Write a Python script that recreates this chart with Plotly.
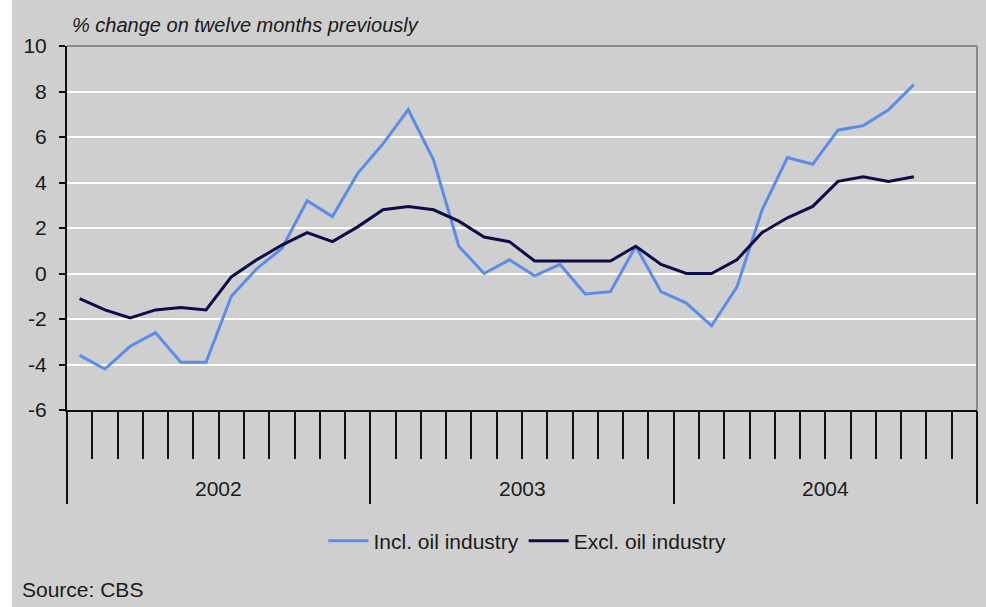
import plotly.graph_objects as go

# Industrial producer prices, % change on twelve months previously
years = ["2002", "2003", "2004"]
month_names = ["Jan", "Feb", "Mar", "Apr", "May", "Jun",
               "Jul", "Aug", "Sep", "Oct", "Nov", "Dec"]
months = [f"{m} {y}" for y in years for m in month_names]

incl_oil = [-3.6, -4.2, -3.2, -2.6, -3.9, -3.9, -1.0, 0.2, 1.1, 3.2, 2.5, 4.4,
            5.7, 7.2, 5.0, 1.2, 0.0, 0.6, -0.1, 0.4, -0.9, -0.8, 1.2, -0.8,
            -1.3, -2.3, -0.6, 2.8, 5.1, 4.8, 6.3, 6.5, 7.2, 8.3]
excl_oil = [-1.1, -1.6, -1.95, -1.6, -1.5, -1.6, -0.15, 0.6, 1.25, 1.8, 1.4, 2.05,
            2.8, 2.95, 2.8, 2.3, 1.6, 1.4, 0.55, 0.55, 0.55, 0.55, 1.2, 0.4,
            0.0, 0.0, 0.6, 1.8, 2.45, 2.95, 4.05, 4.25, 4.05, 4.25]

y_ticks = [-6, -4, -2, 0, 2, 4, 6, 8, 10]
y_tick_text = [str(v) for v in y_ticks]

BG = "#cfcfcf"
FONT = "Liberation Sans, Arial, sans-serif"
TXT = "#1a1a1a"

fig = go.Figure()
fig.add_trace(go.Scatter(x=months[:len(incl_oil)], y=incl_oil, mode="lines",
                         name="Incl. oil industry",
                         line=dict(color="#5b8de8", width=3)))
fig.add_trace(go.Scatter(x=months[:len(excl_oil)], y=excl_oil, mode="lines",
                         name="Excl. oil industry",
                         line=dict(color="#0c0c48", width=3)))

n = len(months)
year_bounds = [-0.5 + 12 * k for k in range(len(years) + 1)]
year_centers = [5.5 + 12 * k for k in range(len(years))]

fig.update_layout(
    width=986, height=607,
    margin=dict(l=67, r=9, t=46, b=197),
    paper_bgcolor=BG, plot_bgcolor=BG,
    font=dict(family=FONT, size=20, color=TXT),
    showlegend=True,
    legend=dict(orientation="h", x=0.506, xanchor="center", y=-0.36, yanchor="middle",
                bgcolor="rgba(0,0,0,0)", font=dict(size=21, color=TXT),
                itemwidth=40, tracegroupgap=0),
    xaxis=dict(type="category", categoryarray=months, categoryorder="array",
               range=[-0.5, n - 0.5], tickmode="linear", tick0=0, dtick=1,
               tickson="boundaries", ticks="outside", ticklen=47, tickwidth=2,
               tickcolor="#111111", showticklabels=False, showgrid=False,
               showline=True, linecolor="#111111", linewidth=2, zeroline=False),
    xaxis2=dict(type="linear", overlaying="x", anchor="y", side="bottom",
                range=[-0.5, n - 0.5], tickmode="array", tickvals=year_bounds,
                ticks="outside", ticklen=93, tickwidth=2, tickcolor="#111111",
                showticklabels=False, showgrid=False, showline=False, zeroline=False),
    yaxis=dict(range=[-6, 10], tickmode="array", tickvals=y_ticks, ticktext=y_tick_text,
               ticks="outside", ticklen=6, tickwidth=2, tickcolor="#111111",
               showgrid=True, gridcolor="#ffffff", gridwidth=2, zeroline=False,
               showline=True, linecolor="#111111", linewidth=2,
               ticklabelstandoff=8, tickfont=dict(size=21, color=TXT)),
)

# year labels under the month ticks
for yr, xc in zip(years, year_centers):
    fig.add_annotation(text=yr, xref="x2", x=xc, yref="paper", y=-0.217,
                       showarrow=False, xanchor="center", yanchor="middle",
                       font=dict(size=21, color=TXT))

fig.add_annotation(text="<i>% change on twelve months previously</i>",
                   xref="paper", x=0.003, yref="paper", y=1.058,
                   showarrow=False, xanchor="left", yanchor="middle",
                   font=dict(size=20, color=TXT))
fig.add_annotation(text="Source: CBS", xref="paper", x=-0.052, yref="paper", y=-0.492,
                   showarrow=False, xanchor="left", yanchor="middle",
                   font=dict(size=21, color=TXT))

# frame: grey top and right edges, white strip on the far left
fig.add_shape(type="line", xref="paper", yref="paper", x0=0, x1=1, y0=1, y1=1,
              line=dict(color="#8a8a8a", width=2), layer="above")
fig.add_shape(type="line", xref="paper", yref="paper", x0=1, x1=1, y0=0, y1=1,
              line=dict(color="#8a8a8a", width=2), layer="above")
fig.add_shape(type="rect", xref="paper", yref="paper", x0=-0.08, x1=-0.0604,
              y0=-0.56, y1=1.15, fillcolor="#ffffff", line=dict(width=0), layer="above")

fig.write_html("out.html")
